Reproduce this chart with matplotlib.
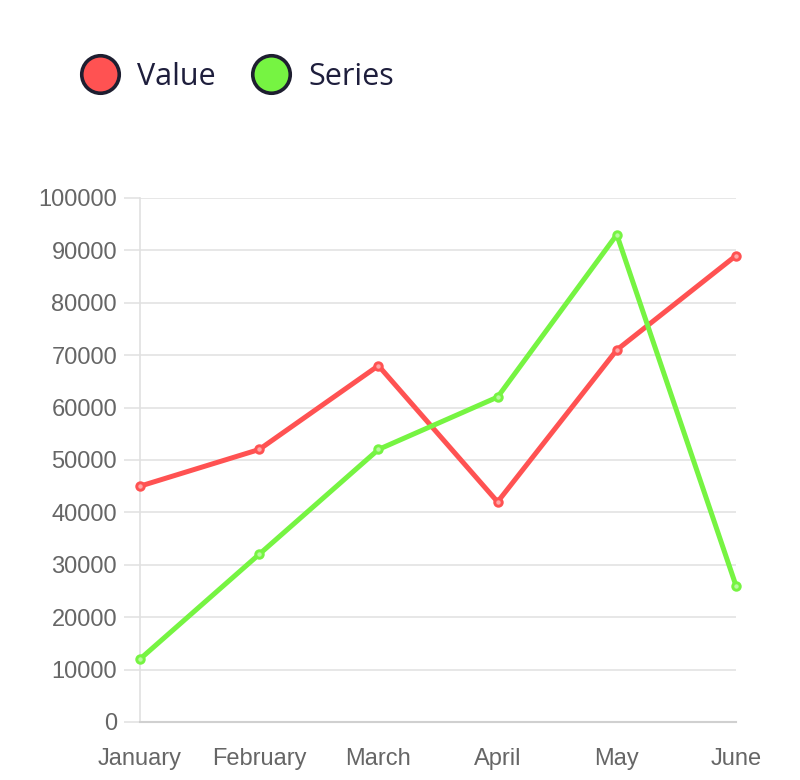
import matplotlib
matplotlib.use("Agg")
import matplotlib.pyplot as plt
from matplotlib.lines import Line2D

months = ["January", "February", "March", "April", "May", "June"]
value = [45000, 52000, 68000, 42000, 71000, 89000]
series = [12000, 32000, 52000, 62000, 93000, 26000]
yticks = list(range(0, 100001, 10000))

red = "#ff5252"
green = "#76f442"

fig = plt.figure(figsize=(8, 7.8), dpi=100)
ax = fig.add_axes([0.175, 0.0744, 0.745, 0.6718])

x = list(range(len(months)))
for data, col in [(value, red), (series, green)]:
    ax.plot(x, data, color=col, lw=3.6, marker="o", ms=5.5, mfc="white", mec=col,
            mew=2, clip_on=False, zorder=3, solid_joinstyle="round")
    ax.plot(x, data, ls="none", marker="o", ms=4, color=col, alpha=0.5, clip_on=False, zorder=4)

ax.set_xlim(0, 5)
ax.set_ylim(0, 100000)
ax.set_xticks(x)
ax.set_xticklabels(months)
ax.set_yticks(yticks)
ax.set_yticklabels([str(t) for t in yticks])
ax.grid(axis="y", color="#e3e3e3", lw=1.2)
ax.set_axisbelow(True)
for s in ["top", "right"]:
    ax.spines[s].set_visible(False)
ax.spines["left"].set_color("#e0e0e0")
ax.spines["bottom"].set_color("#d0d0d0")
ax.spines["left"].set_linewidth(1.2)
ax.spines["bottom"].set_linewidth(1.5)
ax.tick_params(axis="y", length=11.5, color="#e3e3e3", width=1.2, pad=5,
               labelsize=17, labelcolor="#666666")
ax.tick_params(axis="x", length=0, pad=19, labelsize=17, labelcolor="#666666")
for lab in ax.get_xticklabels() + ax.get_yticklabels():
    lab.set_family("Liberation Sans")

# legend
for cx, col, label in [(100, red, "Value"), (271, green, "Series")]:
    fig.add_artist(Line2D([cx / 800], [1 - 74 / 780], transform=fig.transFigure,
                          marker="o", ms=27, mfc=col, mec="#1e1e30", mew=2.6, ls="none"))
    fig.text((cx + 37) / 800, 1 - 77 / 780, label, fontsize=22, color="#1e1e3c",
             va="center", ha="left", family="Open Sans")

fig.savefig("out.png", dpi=100)
